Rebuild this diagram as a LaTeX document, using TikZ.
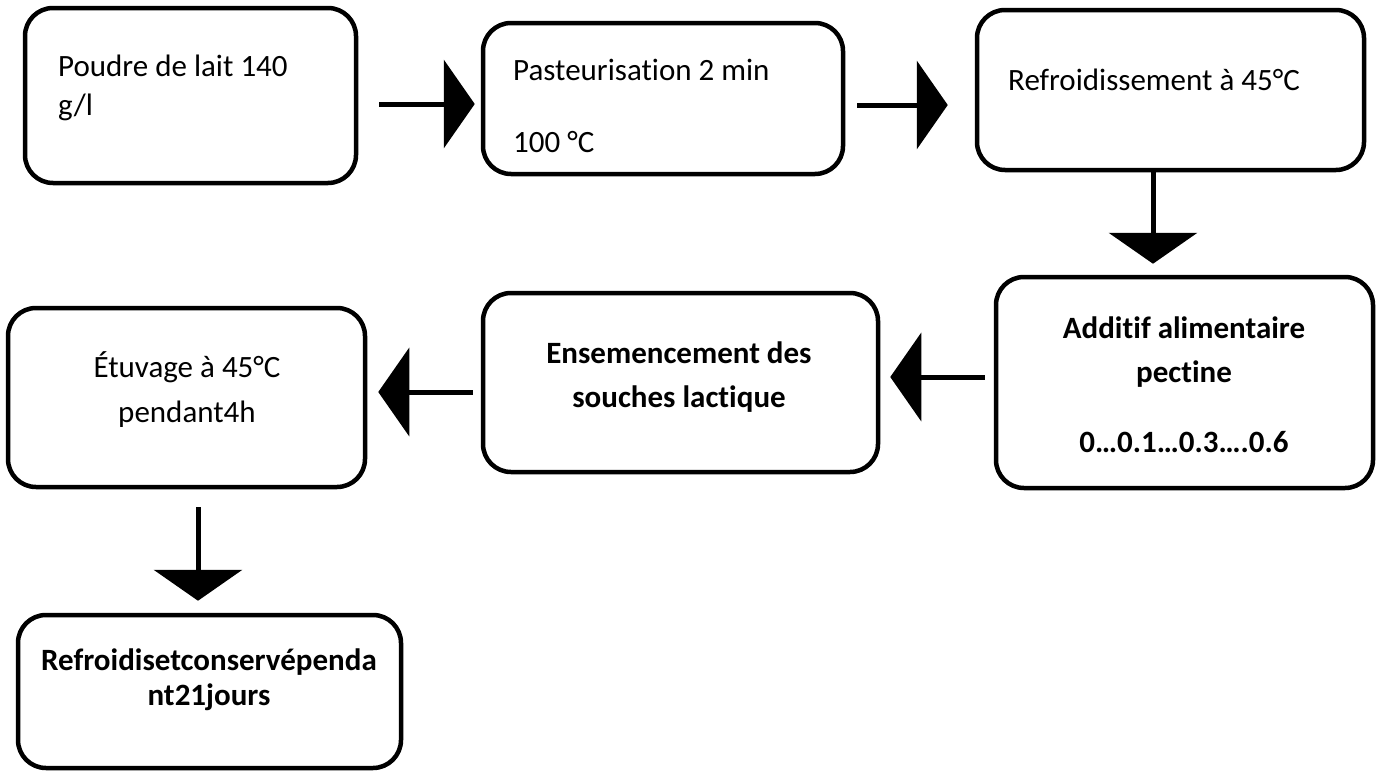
\documentclass[tikz,border=0pt]{standalone}
\usepackage{fontspec}
\setmainfont{Carlito}[Ligatures={NoCommon}]
\usetikzlibrary{arrows.meta}
\tikzset{
  box/.style={draw, line width=4.5pt, rounded corners=28pt, inner sep=0pt, anchor=center},
  txt/.style={inner sep=0pt, font=\fontsize{31}{36}\selectfont},
  btxt/.style={txt, font=\fontsize{31}{36}\selectfont\bfseries},
  flow/.style={line width=5pt, -{Triangle[length=31pt,width=88pt]}}
}
\begin{document}
\begin{tikzpicture}[x=1pt,y=-1pt]
\useasboundingbox (0,0) rectangle (1379,771);
% boxes
\node[box, minimum width=331pt, minimum height=175pt] (b1) at (190.5,95.5) {};
\node[box, minimum width=360pt, minimum height=151pt] (b2) at (663,98.5) {};
\node[box, minimum width=387pt, minimum height=160pt] (b3) at (1170.5,90) {};
\node[box, minimum width=377pt, minimum height=211pt] (b4) at (1184.5,382.5) {};
\node[box, minimum width=395pt, minimum height=179pt] (b5) at (680.5,382.5) {};
\node[box, minimum width=357pt, minimum height=179pt] (b6) at (186.5,397.5) {};
\node[box, minimum width=383pt, minimum height=153pt] (b7) at (209.5,691.5) {};
% texts
\node[txt, anchor=base west] (t1a) at (58,76) {Poudre de lait 140};
\node[txt, anchor=base west] (t1b) at (58,115) {g/l};
\node[txt, anchor=base west] (t2a) at (513,80) {Pasteurisation 2 min};
\node[txt, anchor=base west] (t2b) at (513,152) {100 °C};
\node[txt, anchor=base west] (t3a) at (1008,90) {Refroidissement à 45°C};
\node[btxt, anchor=base] (t4a) at (1184,338) {Additif alimentaire};
\node[btxt, anchor=base] (t4b) at (1184,382) {pectine};
\node[btxt, anchor=base] (t4c) at (1184,452) {0…0.1…0.3….0.6};
\node[btxt, anchor=base] (t5a) at (679,363) {Ensemencement des};
\node[btxt, anchor=base] (t5b) at (679,407) {souches lactique};
\node[txt, anchor=base] (t6a) at (187,377) {Étuvage à 45°C};
\node[txt, anchor=base] (t6b) at (187,422) {pendant4h};
\node[btxt, anchor=base] (t7a) at (209,670) {Refroidisetconservépenda};
\node[btxt, anchor=base] (t7b) at (209,705) {nt21jours};
% connector guides
\coordinate (y1) at (0,104);
\coordinate (y2) at (0,105);
\coordinate (x3) at (1153,0);
\coordinate (y4) at (0,377);
\coordinate (y5) at (0,392);
\coordinate (x6) at (198,0);
% connectors
\draw[flow, shorten <=21pt, shorten >=6pt] (b1.east |- y1) -- (b2.west |- y1);
\draw[flow, shorten <=12pt, shorten >=27pt] (b2.east |- y2) -- (b3.west |- y2);
\draw[flow, shorten >=11pt] (x3 |- b3.south) -- (x3 |- b4.north);
\draw[flow, shorten <=9pt, shorten >=10pt] (b4.west |- y4) -- (b5.east |- y4);
\draw[flow, shorten <=8pt, shorten >=11pt] (b5.west |- y5) -- (b6.east |- y5);
\draw[flow, shorten <=18pt, shorten >=12pt] (x6 |- b6.south) -- (x6 |- b7.north);
\end{tikzpicture}
\end{document}
